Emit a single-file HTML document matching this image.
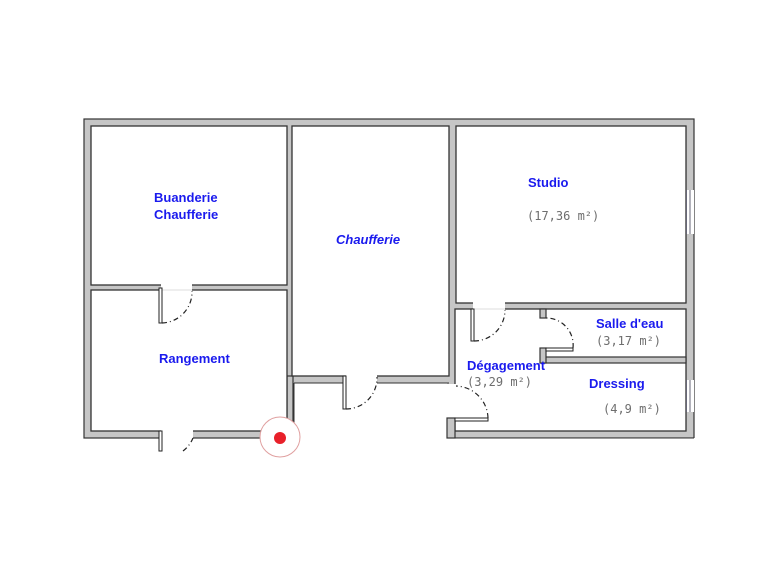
<!DOCTYPE html>
<html><head><meta charset="utf-8"><style>
html,body{margin:0;padding:0;background:#fff;width:768px;height:561px;overflow:hidden}
svg{display:block}
.w{fill:#c6c6c6;stroke:#333;stroke-width:1.2}
.r{fill:#fff;stroke:#333;stroke-width:1.3}
.d{fill:none;stroke:#222;stroke-width:1.2;stroke-dasharray:5,3,1,3}
.l{fill:#fff;stroke:#222;stroke-width:1}
.t{font-family:"Liberation Sans",sans-serif;font-weight:bold;font-size:13px;fill:#1a1aee}
.c{font-family:"DejaVu Sans Mono","Liberation Mono",monospace;font-size:12px;fill:#6e6e6e}
</style></head><body>
<svg width="768" height="561" viewBox="0 0 768 561">
<rect class="w" x="84" y="119" width="610" height="319"/>
<rect x="292" y="384" width="156" height="60" fill="#fff"/>
<line x1="291" y1="384" x2="291" y2="430" stroke="#333"/>
<rect x="287" y="376" width="6" height="55" class="w"/>
<rect class="r" x="91" y="126" width="196" height="159"/>
<rect class="r" x="91" y="290" width="196" height="141"/>
<rect class="r" x="292" y="126" width="157" height="250"/>
<rect x="294" y="383" width="153" height="60" fill="#fff"/>
<line x1="294" y1="383" x2="449" y2="383" stroke="#333"/>
<line x1="294" y1="383" x2="294" y2="438" stroke="#333"/>
<rect class="r" x="456" y="126" width="230" height="177"/>
<rect class="r" x="455" y="309" width="231" height="122"/>
<rect x="440" y="384" width="16" height="34" fill="#fff"/>
<rect x="448" y="438" width="250" height="10" fill="#fff"/>
<line x1="447" y1="438" x2="694" y2="438" stroke="#333"/>
<rect class="w" x="447" y="418" width="8" height="20"/>
<rect class="w" x="541" y="357" width="145" height="6"/>
<rect class="w" x="540" y="309" width="6" height="9"/>
<rect class="w" x="540" y="348" width="6" height="15"/>
<rect x="161" y="284" width="31" height="7" fill="#fff"/>
<line x1="161" y1="290" x2="192" y2="290" stroke="#ddd"/>
<rect x="161" y="430" width="32" height="15" fill="#fff"/>
<rect x="346" y="375" width="31" height="9" fill="#fff"/>
<rect x="473" y="302" width="32" height="8" fill="#fff"/>
<line x1="473" y1="309" x2="505" y2="309" stroke="#ddd"/>
<rect x="686" y="190" width="8" height="44" fill="#fff"/>
<line x1="686.5" y1="190" x2="686.5" y2="234" stroke="#667"/>
<line x1="690" y1="190" x2="690" y2="234" stroke="#667"/>
<rect x="686" y="380" width="8" height="32" fill="#fff"/>
<line x1="686.5" y1="380" x2="686.5" y2="412" stroke="#667"/>
<line x1="690" y1="380" x2="690" y2="412" stroke="#667"/>
<rect class="l" x="159" y="288" width="3" height="35"/>
<path class="d" d="M162 323 A31 31 0 0 0 192 291"/>
<rect class="l" x="159" y="431" width="3" height="20"/>
<path class="d" d="M183 451 A31 31 0 0 0 193 438"/>
<rect class="l" x="343" y="376" width="3" height="33"/>
<path class="d" d="M346 409 A31 31 0 0 0 377 377"/>
<rect class="l" x="471" y="309" width="3" height="32"/>
<path class="d" d="M474 341 A31 31 0 0 0 505 310"/>
<rect class="l" x="546" y="348" width="27" height="3"/>
<path class="d" d="M573 348 A27 27 0 0 0 546 318"/>
<rect class="l" x="455" y="418" width="33" height="3"/>
<path class="d" d="M488 418 A33 33 0 0 0 456 386"/>
<circle cx="280" cy="437" r="20" fill="#fff" stroke="#e0a0a0"/>
<circle cx="280" cy="438" r="6" fill="#e8202a"/>
<text class="t" x="154" y="202">Buanderie</text>
<text class="t" x="154" y="219">Chaufferie</text>
<text class="t" x="159" y="363">Rangement</text>
<text class="t" x="336" y="244" font-style="italic">Chaufferie</text>
<text class="t" x="528" y="187">Studio</text>
<text class="c" x="527" y="220">(17,36 m²)</text>
<text class="t" x="596" y="328">Salle d'eau</text>
<text class="c" x="596" y="345">(3,17 m²)</text>
<text class="t" x="467" y="370" font-size="12.5">Dégagement</text>
<text class="c" x="467" y="386">(3,29 m²)</text>
<text class="t" x="589" y="388">Dressing</text>
<text class="c" x="603" y="413">(4,9 m²)</text>
</svg>
</body></html>
